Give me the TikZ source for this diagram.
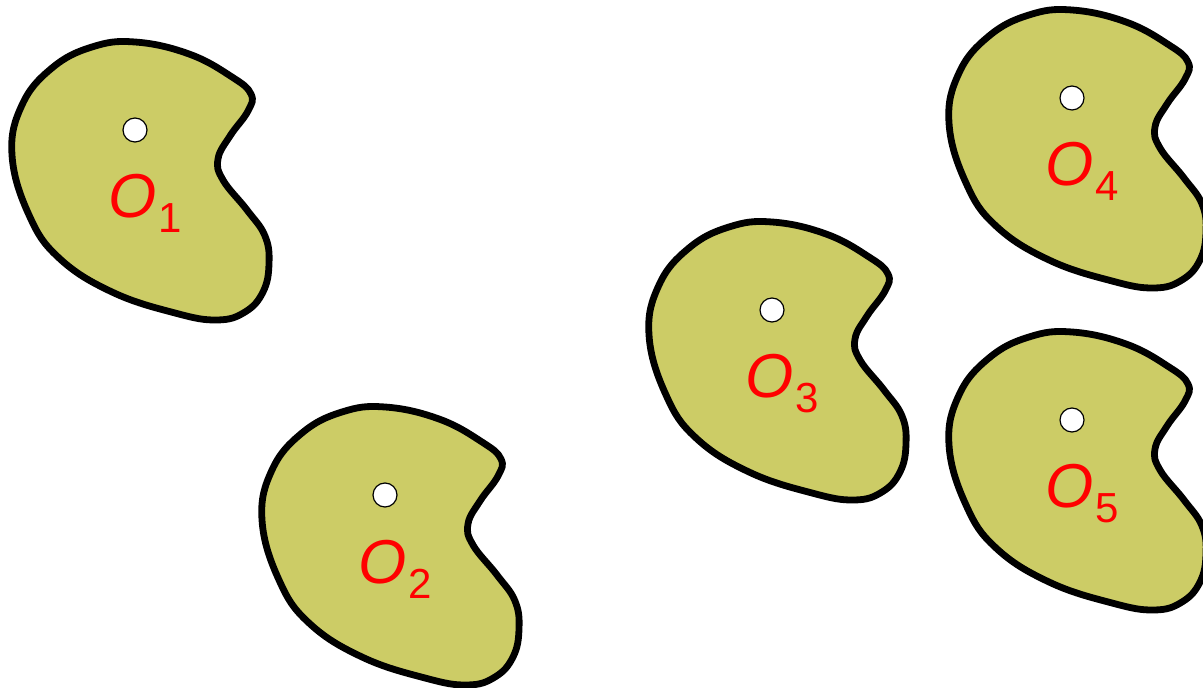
\documentclass[tikz,border=0pt]{standalone}
\usepackage{fontspec}
\setmainfont{Liberation Sans}
\definecolor{kidneyfill}{RGB}{204,204,102}
\tikzset{
  blob/.style={draw=black, line width=3.4pt, fill=kidneyfill, line join=round},
  hole/.style={circle, draw=black, line width=0.6pt, fill=white, minimum size=12pt, inner sep=0pt},
  lbl/.style={text=red, inner sep=0pt, anchor=base west, font=\fontsize{31}{31}\selectfont}
}
\newcommand{\subidx}[1]{\raisebox{-7.5pt}{\fontsize{21}{21}\selectfont\upshape #1}}

\begin{document}
\begin{tikzpicture}[x=0.5pt, y=-0.5pt]
\useasboundingbox (0,0) rectangle (1203,688);
% five bodies, same outline, shifted to their centres
\foreach \n/\cx/\cy in {1/135/130, 2/385/495, 3/772/310, 4/1072/98, 5/1072/420} {
  \begin{scope}[shift={(\cx,\cy)}]
    \draw[blob] plot[smooth cycle, tension=0.7] coordinates {
      (0,-88) (54,-76) (97,-53) (116,-36) (113,-19) (95,6) (83,29)
      (88,50) (112,80) (130,106) (134,134) (128,162) (110,182) (82,190)
      (40,183) (-23,162) (-76,128) (-106,85) (-123,25) (-113,-25)
      (-83,-62) (-43,-83)};
    \node[hole] (c\n) at (0,0) {};
    \node[lbl] (o\n) at (-27,88) {\itshape O\kern1pt\subidx{\n}};
  \end{scope}
}
\end{tikzpicture}
\end{document}
